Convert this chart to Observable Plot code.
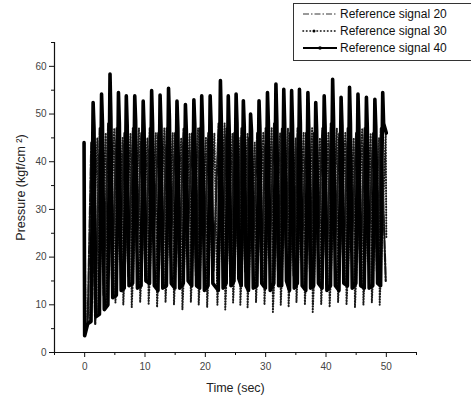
<!DOCTYPE html>
<html>
<head>
<meta charset="utf-8">
<script src="https://cdn.jsdelivr.net/npm/d3@7"></script>
<script src="https://cdn.jsdelivr.net/npm/@observablehq/plot@0.6"></script>
<style>
  html, body { margin: 0; padding: 0; background: #fff; overflow: hidden; }
  #wrap { position: relative; width: 471px; height: 398px; }
  #legend { position: absolute; left: 293px; top: 3px; }
</style>
</head>
<body>
<div id="wrap">
  <div id="chart"></div>
  <div id="legend"></div>
</div>
<script>
// ---- data ----
const seriesNames = ["Reference signal 20", "Reference signal 30", "Reference signal 40"];
const xTicks = [0, 10, 20, 30, 40, 50];
const xMinorTicks = [-5, 5, 15, 25, 35, 45, 55];
const yTicks = [0, 10, 20, 30, 40, 50, 60];
const yMinorTicks = [5, 15, 25, 35, 45, 55, 65];

// Reference signal 40 (thick solid): rise start, peak, shoulder, trough per cycle
const time40 = [-0.1, 0.0, 0.5,
  1.05, 1.4, 1.55, 1.85,   2.45, 2.8, 2.95, 3.25,   3.85, 4.2, 4.35, 4.65,   5.25, 5.6, 5.75, 6.05,
  6.55, 6.9, 7.05, 7.35,   7.95, 8.3, 8.45, 8.75,   9.35, 9.7, 9.85, 10.15,  10.75, 11.1, 11.25, 11.55,
  12.15, 12.5, 12.65, 12.95, 13.55, 13.9, 14.05, 14.35, 14.95, 15.3, 15.45, 15.75, 16.35, 16.7, 16.85, 17.15,
  17.75, 18.1, 18.25, 18.55, 19.05, 19.4, 19.55, 19.85, 20.45, 20.8, 20.95, 21.25, 22.15, 22.5, 22.65, 22.95,
  23.45, 23.8, 23.95, 24.25, 24.75, 25.1, 25.25, 25.55, 25.95, 26.3, 26.45, 26.75, 27.15, 27.5, 27.65, 27.95,
  28.55, 28.9, 29.05, 29.35, 29.95, 30.3, 30.45, 30.75, 31.35, 31.7, 31.85, 32.15, 32.65, 33.0, 33.15, 33.45,
  33.95, 34.3, 34.45, 34.75, 35.25, 35.6, 35.75, 36.05, 36.65, 37.0, 37.15, 37.45, 37.95, 38.3, 38.45, 38.75,
  39.35, 39.7, 39.85, 40.15, 40.75, 41.1, 41.25, 41.55, 42.15, 42.5, 42.65, 42.95, 43.55, 43.9, 44.05, 44.35,
  44.95, 45.3, 45.45, 45.75, 46.35, 46.7, 46.85, 47.15, 47.75, 48.1, 48.25, 48.55, 49.05, 49.4, 49.55, 50.0];
const pres40 = [44, 3.5, 6,
  6.5, 52.4, 47, 7.5,    8, 54.2, 48, 9,        10, 58.4, 49, 11.5,    12, 54.5, 48, 13,
  13.5, 53.8, 47.5, 14,  14.5, 53.8, 48.5, 13.5, 14, 52.7, 47, 15,     14.5, 54.9, 48, 14,
  13, 54, 47.5, 13.5,    14, 55.4, 49, 14.5,    13.5, 52.7, 47, 13.5,  14.5, 52, 46.5, 15,
  14, 53, 48, 14,        13.5, 53.8, 47.5, 13,  14, 53.8, 48, 14.5,    13, 57, 48.5, 13.5,
  14.5, 53.8, 47, 14,    15, 54.2, 48, 15.5,    14, 52.8, 47.5, 14,    13, 50, 46.5, 13.5,
  14, 52.8, 47, 14.5,    13.5, 54.5, 48, 13,    14.5, 56.3, 48.5, 14,  14, 55.2, 48, 15,
  13, 54.9, 47.5, 13.5,  14.5, 55.2, 48, 14,    13, 54.5, 47, 13.5,    14, 52.4, 46.5, 14.5,
  13.5, 53.8, 47.5, 13,  14, 57.3, 49, 14,      13, 53.5, 47.5, 14.5,  14, 55.6, 48, 13.5,
  14.5, 54.2, 47.5, 14,  13.5, 53.5, 47, 13.5,  14, 53.1, 47.5, 14.5,  14, 54.5, 48, 46];

// Reference signal 30 (dotted): trough, peak per cycle
const time30 = [0.0, 0.15, 0.55,
  0.9, 2.1, 2.3, 3.5, 3.7, 4.9, 5.1, 6.3, 6.4, 7.6, 7.8, 9.0, 9.2, 10.4, 10.6, 11.8,
  12.0, 13.2, 13.4, 14.6, 14.8, 16.0, 16.2, 17.4, 17.6, 18.8, 18.9, 20.1, 20.3, 21.5,
  22.0, 23.2, 23.3, 24.5, 24.6, 25.8, 25.8, 27.0, 27.0, 28.2, 28.4, 29.6, 29.8, 31.0,
  31.2, 32.4, 32.5, 33.7, 33.8, 35.0, 35.1, 36.3, 36.5, 37.7, 37.8, 39.0, 39.2, 40.4,
  40.6, 41.8, 42.0, 43.2, 43.4, 44.6, 44.8, 46.0, 46.2, 47.4, 47.6, 48.8, 48.9, 49.9, 50.0];
const pres30 = [24, 5, 6,
  6.5, 45, 8.5, 46, 10, 47, 10.5, 45, 10, 46, 9.5, 47, 10.5, 45, 10, 46,
  9.5, 47, 10.5, 46, 10, 45, 9, 46, 10.5, 47, 10, 45, 9.5, 46,
  10, 48, 9, 46, 10.5, 45, 10, 46, 9.5, 44, 10.5, 46, 10, 47,
  8.5, 46, 10, 47, 9.5, 45, 10.5, 46, 10, 47, 8.5, 45, 10, 46,
  9.5, 47, 10.5, 46, 10, 45, 9.5, 47, 10, 46, 10.5, 45, 10, 46, 24];

// Reference signal 20 (dash-dot): peak, trough per cycle
const time20 = [0.0, 0.1, 0.5,
  1.1, 1.75, 2.5, 3.15, 3.9, 4.55, 5.3, 5.95, 6.6, 7.25, 8.0, 8.65, 9.4, 10.05, 10.8, 11.45,
  12.2, 12.85, 13.6, 14.25, 15.0, 15.65, 16.4, 17.05, 17.8, 18.45, 19.1, 19.8, 20.5, 21.35,
  22.2, 22.85, 23.5, 24.15, 24.8, 25.4, 26.0, 26.6, 27.2, 27.9, 28.6, 29.3, 30.0, 30.7,
  31.4, 32.05, 32.7, 33.35, 34.0, 34.65, 35.3, 36.0, 36.7, 37.35, 38.0, 38.7, 39.4, 40.1,
  40.8, 41.5, 42.2, 42.9, 43.6, 44.3, 45.0, 45.7, 46.4, 47.1, 47.8, 48.45, 49.1, 49.9];
const pres20 = [30, 5, 6,
  44, 6, 47, 12, 48, 15, 47, 22, 46, 16, 47, 21, 46, 17, 47, 23,
  46, 16, 47, 20, 46, 17, 47, 22, 46, 16, 47, 21, 46, 17,
  48, 23, 47, 16, 46, 22, 47, 17, 45, 20, 46, 16, 47, 21,
  48, 17, 47, 22, 46, 16, 47, 20, 46, 17, 46, 22, 47, 16,
  48, 21, 46, 17, 47, 22, 46, 16, 47, 21, 46, 17, 47, 15];

// ---- build tables ----
const toRows = (ts, ps) => ts.slice(0, Math.min(ts.length, ps.length)).map((t, i) => ({t, p: ps[i]}));
const d20 = toRows(time20, pres20);
const d30 = toRows(time30, pres30);
const d40 = toRows(time40, pres40);

const font = "'Liberation Sans', Arial, sans-serif";

const chart = Plot.plot({
  width: 471,
  height: 398,
  marginLeft: 54,
  marginRight: 55,
  marginTop: 42,
  marginBottom: 46,
  x: {domain: [-5, 55]},
  y: {domain: [0, 65]},
  style: {fontFamily: font, fontSize: "10px", background: "white", color: "#333"},
  marks: [
    Plot.line(d20, {x: "t", y: "p", stroke: "#111", strokeWidth: 2.2, strokeDasharray: "8,1.5,2,1.5"}),
    Plot.line(d30, {x: "t", y: "p", stroke: "#1a1a1a", strokeWidth: 2, strokeDasharray: "0.5,2.2", strokeLinecap: "round"}),
    Plot.line(d40, {x: "t", y: "p", stroke: "#000", strokeWidth: 3.6}),
    Plot.ruleY([0], {stroke: "#111", strokeWidth: 1.2}),
    Plot.ruleX([-5], {stroke: "#111", strokeWidth: 1.2}),
    Plot.axisX({ticks: xTicks, tickSize: 5, tickPadding: 5, label: null, fontSize: 10, fill: "#444", stroke: "#111"}),
    Plot.axisX({ticks: xMinorTicks, tickSize: 3, tickFormat: () => "", label: null, stroke: "#111"}),
    Plot.axisY({ticks: yTicks, tickSize: 5, tickPadding: 3, label: null, fontSize: 10, fill: "#444", stroke: "#111"}),
    Plot.axisY({ticks: yMinorTicks, tickSize: 3, tickFormat: () => "", label: null, stroke: "#111"}),
    Plot.text(["Time (sec)"], {frameAnchor: "bottom", dy: 39, fontSize: 12.5, fill: "#222"}),
    Plot.text(["Pressure (kgf/cm ²)"], {frameAnchor: "left", textAnchor: "middle", dx: -34, dy: -10, rotate: -90, fontSize: 12.5, fill: "#222"})
  ]
});
document.getElementById("chart").appendChild(chart);

// ---- legend ----
const lg = d3.select("#legend").append("svg").attr("width", 180).attr("height", 60)
  .style("font-family", font).style("overflow", "visible");
lg.append("rect").attr("x", 0.5).attr("y", 0.5).attr("width", 200).attr("height", 57)
  .attr("fill", "white").attr("stroke", "#333").attr("stroke-width", 1);
const rowsY = [11, 28, 45];
const styles = [
  {w: 0.8, dash: "6,2,1.5,2", cap: "butt"},
  {w: 1.6, dash: "0.5,3", cap: "round"},
  {w: 2, dash: null, cap: "butt"}
];
seriesNames.forEach((name, i) => {
  const g = lg.append("g").attr("transform", `translate(0,${rowsY[i]})`);
  const ln = g.append("line").attr("x1", 10).attr("x2", 44).attr("y1", 0).attr("y2", 0)
    .attr("stroke", "#000").attr("stroke-width", styles[i].w).attr("stroke-linecap", styles[i].cap);
  if (styles[i].dash) ln.attr("stroke-dasharray", styles[i].dash);
  if (i === 2) g.append("circle").attr("cx", 27).attr("cy", 0).attr("r", 1.8).attr("fill", "#000");
  if (i === 1) g.append("circle").attr("cx", 21).attr("cy", 0).attr("r", 1.5).attr("fill", "#000");
  g.append("text").attr("x", 47).attr("y", 0).attr("dy", "0.35em")
    .attr("font-size", 12).attr("fill", "#111").text(name);
});
</script>
</body>
</html>
